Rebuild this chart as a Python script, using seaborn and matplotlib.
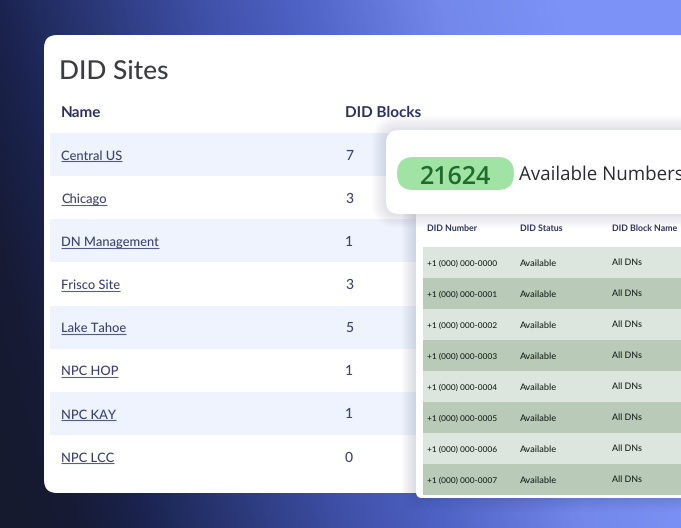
import numpy as np
import matplotlib
matplotlib.use("Agg")
import matplotlib.pyplot as plt
import seaborn as sns
from matplotlib.colors import LinearSegmentedColormap, ListedColormap
from matplotlib.patches import FancyBboxPatch

plt.rcParams["text.hinting"] = "no_hinting"

W, H = 681, 528

site_names = ["Central US", "Chicago", "DN Management", "Frisco Site",
              "Lake Tahoe", "NPC HOP", "NPC KAY", "NPC LCC"]
did_blocks = [7, 3, 1, 3, 5, 1, 1, 0]

did_numbers = ["+1 (000) 000-0000", "+1 (000) 000-0001", "+1 (000) 000-0002",
               "+1 (000) 000-0003", "+1 (000) 000-0004", "+1 (000) 000-0005",
               "+1 (000) 000-0006", "+1 (000) 000-0007"]
did_status = ["Available"] * 8
did_block_names = ["All DNs"] * 8
did_headers = ["DID Number", "DID Status", "DID Block Name"]
available_count = "21624"

NAVY = "#2b3164"
LINK = "#3d4173"


def px_axes(x0, y0, x1, y1, z):
    # axes placed in pixel units, y from the top
    return fig.add_axes([x0 / W, 1 - y1 / H, (x1 - x0) / W, (y1 - y0) / H], zorder=z)


def rounded(ax, x0, y0, x1, y1, r, z, color="white", alpha=1.0):
    ax.add_patch(FancyBboxPatch((x0 + r, y0 + r), x1 - x0 - 2 * r, y1 - y0 - 2 * r,
                                boxstyle=f"round,pad={r},rounding_size={r}",
                                fc=color, ec="none", alpha=alpha, zorder=z))


def shadow(ax, x0, y0, x1, y1, r, z, spread=16, alpha=0.012):
    for s in range(spread, 0, -2):
        rounded(ax, x0 - s, y0 - s, x1 + s, y1 + s, r + s, z, color="#39406e", alpha=alpha)


def layer(z):
    a = px_axes(0, 0, W, H, z)
    a.set_xlim(0, W)
    a.set_ylim(H, 0)
    a.axis("off")
    a.patch.set_alpha(0)
    return a


fig = plt.figure(figsize=(W / 100, H / 100), dpi=100)

# background gradient
bg = layer(0)
xx, yy = np.meshgrid(np.arange(W), np.arange(H))
stops = [-150, -75, 0, 100, 200, 300, 440, 560]
cols = ["#171a2e", "#161a33", "#1b2450", "#2c3a7c", "#3f50a8", "#4f63c6", "#7388ea", "#7d92f7"]
cmap = LinearSegmentedColormap.from_list(
    "bg", [((s - stops[0]) / (stops[-1] - stops[0]), c) for s, c in zip(stops, cols)])
bg.imshow(xx - 0.28 * yy, cmap=cmap, vmin=stops[0], vmax=stops[-1],
          extent=(0, W, H, 0), aspect="auto", interpolation="bilinear")
rounded(bg, 44, 35, W + 40, 493, 13, 2)

# site table stripes
row_top, row_h = 133, 43.14
stripe_ax = px_axes(50, row_top, W, row_top + 8 * row_h, 1)
sns.heatmap(np.arange(8).reshape(-1, 1) % 2, ax=stripe_ax, cbar=False,
            cmap=ListedColormap(["#eef3fd", "#ffffff"]), vmin=0, vmax=1,
            xticklabels=False, yticklabels=False)

mid = layer(2)
mid.text(59, 78.5, "DID Sites", family="Lato", weight="medium", fontsize=18.9, color="#3c3c44", va="baseline")
mid.text(61, 117, "Name", family="Lato", weight="bold", fontsize=11, color=NAVY, va="baseline")
mid.text(345, 117, "DID Blocks", family="Lato", weight="bold", fontsize=11, color=NAVY, va="baseline")

links = []
for i, (name, n) in enumerate(zip(site_names, did_blocks)):
    base = row_top + (i + 0.5) * row_h + 5
    links.append((mid.text(61, base, name, family="Lato", weight="medium", fontsize=9.3,
                           color=LINK, va="baseline"), base))
    mid.text(345, base, str(n), family="Lato", weight="medium", fontsize=10, color=LINK, va="baseline")

fig.canvas.draw()
renderer = fig.canvas.get_renderer()
for t, base in links:
    bb = t.get_window_extent(renderer)
    mid.plot([bb.x0, bb.x1], [base + 1.8, base + 1.8], color=LINK, lw=0.8, alpha=0.85,
             solid_capstyle="butt")

# numbers panel
shadow(mid, 416, 214, W + 40, 498, 6, 3, spread=14, alpha=0.022)
rounded(mid, 416, 200, W + 40, 498, 6, 4)

num_top, num_h = 247, 31
green_ax = px_axes(423, num_top, W, num_top + 8 * num_h, 3)
sns.heatmap(np.arange(8).reshape(-1, 1) % 2, ax=green_ax, cbar=False,
            cmap=ListedColormap(["#dde6de", "#b9cbb8"]), vmin=0, vmax=1,
            xticklabels=False, yticklabels=False)

top = layer(4)
col_x = [427, 519.5, 612]
for x, label in zip(col_x, did_headers):
    top.text(x, 231, label, family="Lato", weight="bold", fontsize=6.3, color=NAVY, va="baseline")
for i, (num, status, block) in enumerate(zip(did_numbers, did_status, did_block_names)):
    base = num_top + (i + 0.5) * num_h + 3.5
    top.text(col_x[0], base, num, family="Lato", weight="medium", fontsize=6.05, color="#18221c", va="baseline")
    top.text(col_x[1], base, status, family="Lato", weight="medium", fontsize=6.7, color="#18221c", va="baseline")
    top.text(col_x[2], base - 1, block, family="Lato", weight="medium", fontsize=6.4, color="#18221c", va="baseline")

# count card on top
shadow(top, 386, 130, W + 40, 214, 13, 1, spread=14, alpha=0.018)
rounded(top, 386, 130, W + 40, 214, 13, 2)
rounded(top, 397, 157, 514, 190, 16.5, 3, color="#a0e3a5")
top.text(455.5, 174, available_count, family="Open Sans", weight="semibold", fontsize=18,
         color="#1f6a2c", ha="center", va="center_baseline", zorder=4)
top.text(519, 180, "Available Numbers", family="Open Sans", weight="medium", fontsize=13.5,
         color="#2a2b30", va="baseline", zorder=4)

fig.savefig("out.png", dpi=100)
